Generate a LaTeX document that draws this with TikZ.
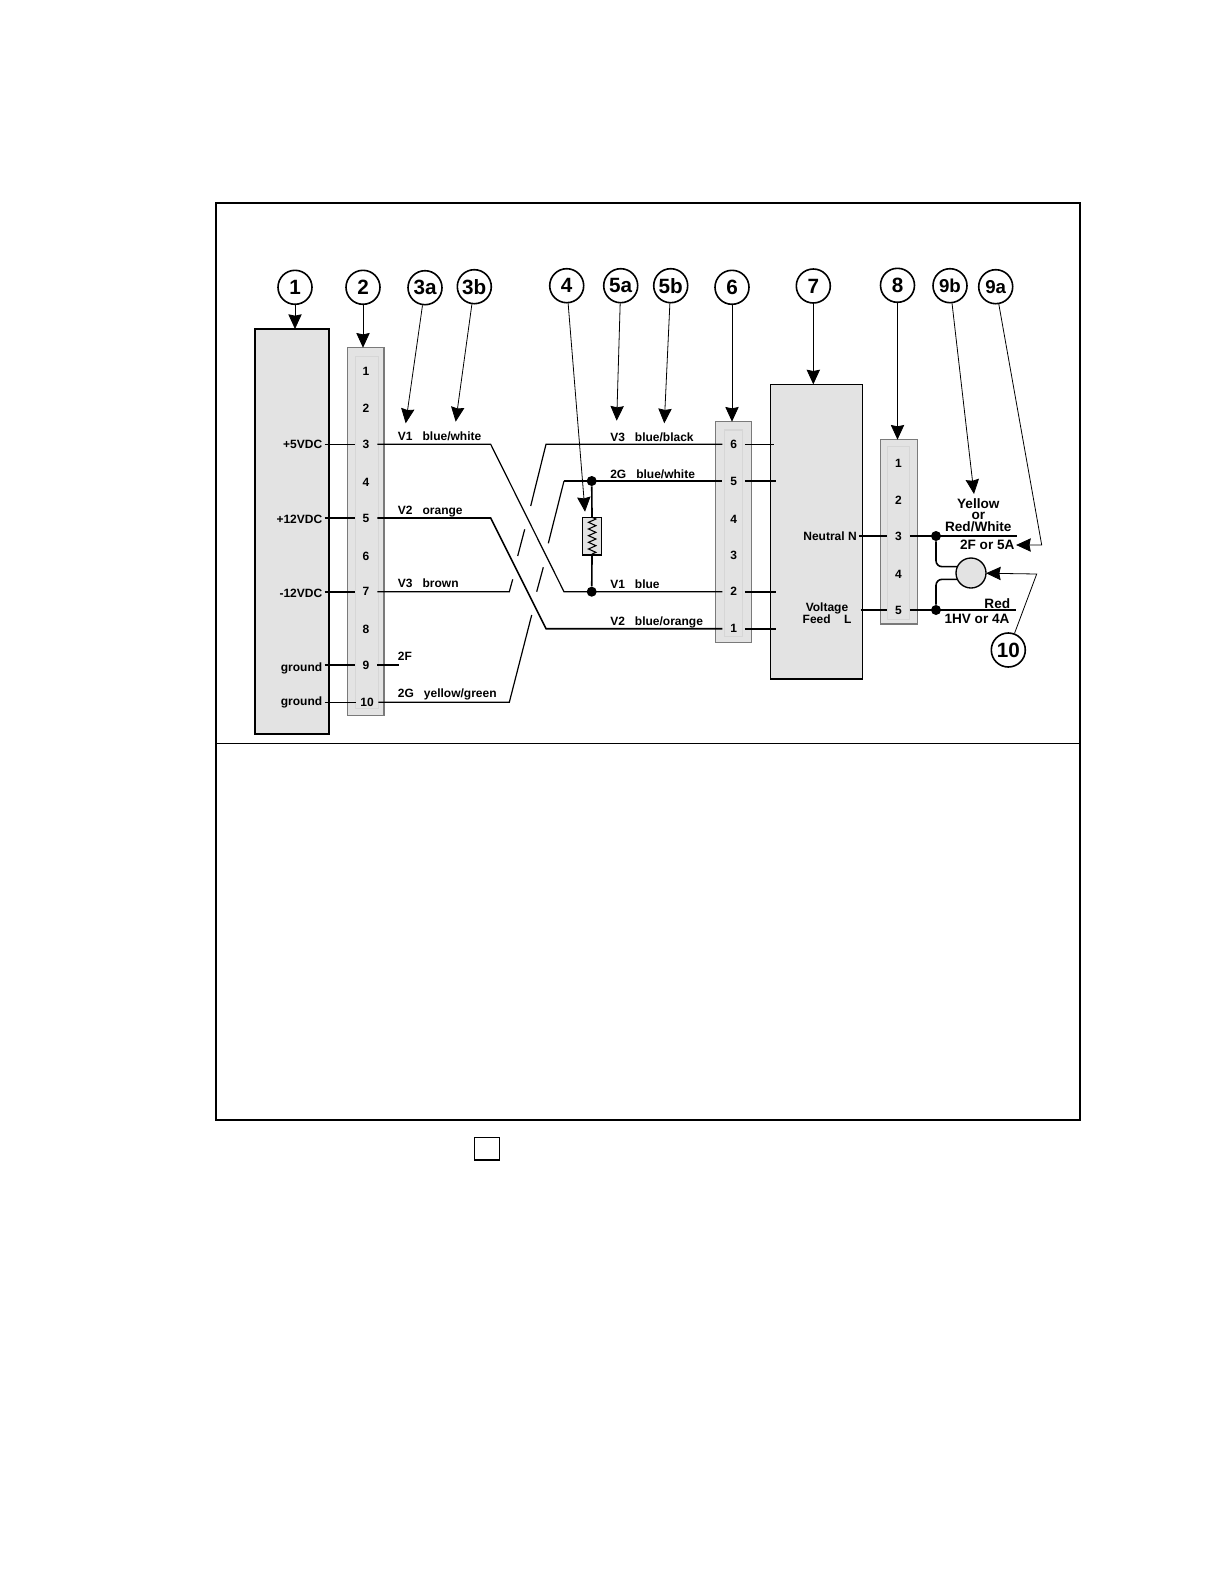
\documentclass[tikz,border=0pt]{standalone}
\usepackage{fontspec}
\setmainfont{Liberation Sans}
\usetikzlibrary{arrows.meta,decorations.pathmorphing}
\definecolor{boxfill}{HTML}{E3E3E3}
\definecolor{boxedge}{HTML}{7A7A7A}
\definecolor{inneredge}{HTML}{D6D6D6}

\begin{document}
\begin{tikzpicture}[x=0.75pt,y=-0.75pt,>={Stealth[length=11pt,width=10pt,inset=1pt]},
  main box/.style 2 args={rectangle,draw=black,fill=boxfill,line width=1pt,outer sep=0pt,minimum width=#1,minimum height=#2},
  term box/.style 2 args={main box={#1}{#2},draw=boxedge},
  inner box/.style 2 args={main box={#1}{#2},draw=inneredge,line width=0.8pt},
  callout/.style={circle,draw,line width=1.2pt,minimum size=25.5pt,inner sep=0pt,font=\bfseries\fontsize{15.5}{16}\selectfont},
  small callout/.style={callout,font=\bfseries\fontsize{14}{16}\selectfont},
  pin/.style={inner sep=0pt,minimum width=16.5pt,minimum height=9pt,font=\bfseries\fontsize{9}{10}\selectfont},
  side label/.style={anchor=east,inner xsep=1.5pt,text height=6.6pt,text depth=0pt,font=\bfseries\fontsize{9}{10}\selectfont},
  wire label/.style={anchor=base west,inner sep=0pt,font=\bfseries\fontsize{9}{10}\selectfont},
  big label/.style={align=center,inner sep=1pt,font=\bfseries\fontsize{10.2}{8.5}\selectfont},
  wire/.style={line width=1.2pt},
  thin wire/.style={line width=0.9pt},
  pointer/.style={->,line width=0.6pt},
  junction/.style={circle,fill=black,inner sep=0pt,minimum size=7.5pt}]

  \useasboundingbox (0,0) rectangle (1225,1585);

  % frame
  \node[rectangle,draw,line width=1.5pt,minimum width=648.2pt,minimum height=688pt,outer sep=0pt] (frame) at (647.9,661.4) {};
  \coordinate (divleft) at (215.7,743.3);
  \coordinate (divright) at (1080,743.3);
  \draw[line width=1pt] (divleft) -- (divright);
  \node[rectangle,draw,line width=0.9pt,minimum width=18.7pt,minimum height=17pt,outer sep=0pt] (square) at (486.8,1148.7) {};

  % boxes
  \node[main box={55.5pt}{303.75pt}] (box1) at (292,531.5) {};
  \node[term box={27.5pt}{276pt}] (box2) at (365.7,531.7) {};
  \node[inner box={17.25pt}{263.7pt}] (inner2) at (366.8,532.5) {};
  \node[term box={27.3pt}{165.5pt}] (box6) at (733.5,532) {};
  \node[inner box={13.8pt}{155pt}] (inner6) at (733.5,533.3) {};
  \node[main box={68.7pt}{221pt}] (box7) at (816.5,531.7) {};
  \node[term box={27.5pt}{138.2pt}] (box8) at (899,531.8) {};
  \node[inner box={16.7pt}{129.5pt}] (inner8) at (898.8,533) {};

  % callouts
  \node[callout] (c1) at (295,287.3) {1};
  \node[callout] (c2) at (363,287.3) {2};
  \node[callout] (c3a) at (425,287.7) {3a};
  \node[callout] (c3b) at (474.3,286.7) {3b};
  \node[callout] (c4) at (566.7,285.7) {4};
  \node[callout] (c5a) at (620.7,285.7) {5a};
  \node[callout] (c5b) at (670.7,285.7) {5b};
  \node[callout] (c6) at (732,287.3) {6};
  \node[callout] (c7) at (813.3,286) {7};
  \node[callout] (c8) at (897.5,285.3) {8};
  \node[small callout] (c9b) at (950,285.7) {9b};
  \node[small callout] (c9a) at (995.7,286.7) {9a};
  \node[callout] (c10) at (1008.3,650) {10};

  % pins of connector 2
  \node[pin] (a1) at (366,371.7) {1};
  \node[pin] (a2) at (366,408.3) {2};
  \node[pin] (a3) at (366,444.3) {3};
  \node[pin] (a4) at (366,482.3) {4};
  \node[pin] (a5) at (366,518) {5};
  \node[pin] (a6) at (366,556) {6};
  \node[pin] (a7) at (366,591.7) {7};
  \node[pin] (a8) at (366,629.3) {8};
  \node[pin] (a9) at (366,665) {9};
  \node[pin] (a10) at (367,702.3) {10};

  % pins of connector 6
  \node[pin] (f6) at (733.7,444.3) {6};
  \node[pin] (f5) at (733.7,481) {5};
  \node[pin] (f4) at (733.7,519.3) {4};
  \node[pin] (f3) at (733.7,555.3) {3};
  \node[pin] (f2) at (733.7,591.7) {2};
  \node[pin] (f1) at (733.7,628.7) {1};

  % pins of connector 8
  \node[pin] (n1) at (898.5,463.3) {1};
  \node[pin] (n2) at (898.5,500) {2};
  \node[pin] (n3) at (898.5,536) {3};
  \node[pin] (n4) at (898.5,574.3) {4};
  \node[pin] (n5) at (898.5,610) {5};

  % side labels
  \node[side label] (l3) at (324.5,444.3) {+5VDC};
  \node[side label,text height=8.1pt] (l5) at (324.5,518) {+12VDC};
  \node[side label,text height=8.1pt] (l7) at (324.5,591.7) {-12VDC};
  \node[side label,text height=9.6pt] (l9) at (324.5,665) {ground};
  \node[side label,text height=5.1pt] (l10) at (324.5,702.3) {ground};
  \node[side label] (neutral) at (859,536) {Neutral N};
  \node[big label,font=\bfseries\fontsize{9}{8.7}\selectfont] (feed) at (827,613.5) {Voltage\\Feed~~~~L};
  \coordinate (s5) at (860.7,610);

  % wire labels
  \node[wire label] (v1w) at (397.7,440) {V1~~~blue/white};
  \node[wire label] (v2o) at (397.7,514.2) {V2~~~orange};
  \node[wire label] (v3b) at (397.7,587.3) {V3~~~brown};
  \node[wire label] (w2f) at (397.7,660) {2F};
  \node[wire label] (w2g) at (397.7,697.3) {2G~~~yellow/green};
  \node[wire label] (v3k) at (610,441) {V3~~~blue/black};
  \node[wire label] (g2w) at (610,478.3) {2G~~~blue/white};
  \node[wire label] (v1b) at (610,588.3) {V1~~~blue};
  \node[wire label] (v2b) at (610,625.7) {V2~~~blue/orange};

  % bends and free ends
  \coordinate (k1a) at (490.7,444.3);
  \coordinate (k1b) at (564,591.7);
  \coordinate (k2a) at (490.7,518);
  \coordinate (k2b) at (546,628.7);
  \coordinate (k3a) at (509.3,591.7);
  \coordinate (k3b) at (512.7,579.3);
  \coordinate (k3c) at (517.7,556);
  \coordinate (k3d) at (524.7,529.3);
  \coordinate (k3e) at (530.7,506);
  \coordinate (k3f) at (546,444.3);
  \coordinate (k4a) at (509.3,702.3);
  \coordinate (k4b) at (531.7,615);
  \coordinate (k4c) at (536.7,591.7);
  \coordinate (k4d) at (543.3,567.3);
  \coordinate (k4e) at (548.3,543.3);
  \coordinate (k4f) at (564,481);
  \coordinate (e9) at (399,665);
  \coordinate (e6) at (774,444.3);
  \coordinate (e5) at (776,481);
  \coordinate (e2) at (776,591.7);
  \coordinate (e1) at (776,628.7);
  \coordinate (e3) at (1016.7,536);
  \coordinate (e4) at (1015.7,610);

  % left wires
  \path[wire]
    (l3) edge (a3)
    (l5) edge (a5)
    (l7) edge (a7)
    (l9) edge (a9)
    (l10) edge (a10)
    (a9) edge (e9)
    (f6) edge [thin wire] (e6)
    (f5) edge (e5)
    (f2) edge (e2)
    (f1) edge (e1)
    (neutral) edge (n3)
    (s5) edge (n5);

  % crossing wires
  \draw[thin wire] (a3) -- (k1a) -- (k1b) -- (f2);
  \draw[wire] (a5) -- (k2a) -- (k2b) -- (f1);
  \draw[thin wire] (a7) -- (k3a) -- (k3b);
  \draw[thin wire] (k3c) -- (k3d);
  \draw[thin wire] (k3e) -- (k3f) -- (f6);
  \draw[thin wire] (a10) -- (k4a) -- (k4b);
  \draw[thin wire] (k4c) -- (k4d);
  \draw[thin wire] (k4e) -- (k4f);
  \draw[wire] (k4f) -- (f5);

  % resistor
  \node[junction] (j5) at (591.7,481) {};
  \node[junction] (j2) at (591.7,591.7) {};
  \node[main box={14.25pt}{28.3pt}] (res) at (592.2,536.2) {};
  \path[wire]
    (j5) edge (res)
    (j2) edge (res);
  \draw[line width=0.8pt,decorate,decoration={zigzag,segment length=5pt,amplitude=2.8pt}] (res.north) -- (res.south);

  % lamp
  \node[main box={1pt}{1pt},circle,minimum size=22.5pt,inner sep=0pt] (lamp) at (971,573) {};
  \node[junction] (j3) at (936,536) {};
  \node[junction] (j4) at (936,610) {};
  \draw[wire] (n3) -- (e3);
  \draw[wire] (n5) -- (e4);
  \draw[wire,rounded corners=4.5pt] (j3) |- (lamp.155);
  \draw[wire,rounded corners=4.5pt] (j4) |- (lamp.205);

  % right labels
  \node[big label] (yellow) at (978.3,515) {Yellow\\or\\Red/White};
  \node[big label] (f5a) at (987.3,545) {2F or 5A};
  \node[big label] (red) at (997.3,603.7) {Red};
  \node[big label] (hv) at (977,619) {1HV or 4A};

  % pointers
  \coordinate (t3a) at (405.7,423.3);
  \coordinate (t3b) at (455.7,421.7);
  \coordinate (t4) at (585,511.7);
  \coordinate (t5a) at (616.7,420.7);
  \coordinate (t5b) at (664.3,423.3);
  \coordinate (t9b) at (974,494);
  \coordinate (k9a) at (1041.7,545);
  \coordinate (k10) at (1036.7,574);
  \path[pointer]
    (c1) edge (c1 |- box1.north)
    (c2) edge (c2 |- box2.north)
    (c3a) edge (t3a)
    (c3b) edge (t3b)
    (c4) edge (t4)
    (c5a) edge (t5a)
    (c5b) edge (t5b)
    (c6) edge (c6 |- box6.north)
    (c7) edge (c7 |- box7.north)
    (c8) edge (c8 |- box8.north)
    (c9b) edge (t9b);
  \draw[pointer] (c9a) -- (k9a) -- (f5a);
  \draw[pointer] (c10) -- (k10) -- (lamp);

\end{tikzpicture}
\end{document}
